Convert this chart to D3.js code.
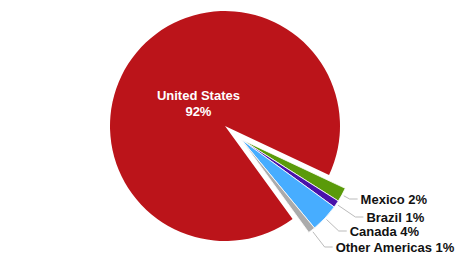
<!DOCTYPE html>
<html>
<head>
<meta charset="utf-8">
<script src="https://cdn.jsdelivr.net/npm/d3@7"></script>
<style>
  body { margin: 0; background: #fff; }
  text { font-family: "Liberation Sans", Arial, sans-serif; font-weight: bold; }
</style>
</head>
<body>
<script>
'use strict';

// chart data
const countries = ["Mexico", "Brazil", "Canada", "Other Americas", "United States"];
const shares = [2, 1, 4, 1, 92];
const colors = ["#5a9a0a", "#4a12aa", "#47adff", "#ababab", "#bb141a"];

(function() {
  const width = 466, height = 266;
  const cx = 225, cy = 126, radius = 115;
  const explode = 21;

  let svg = d3.select('body')
    .append('svg')
    .attr('width', width)
    .attr('height', height);

  let data = countries.map((c, i) => ({ name: c, value: shares[i], color: colors[i] }));

  // small slices start just below 3 o'clock, US fills the rest
  let start = 115.2 * Math.PI / 180;
  let pie = d3.pie()
    .sort(null)
    .value(d => d.value)
    .startAngle(start)
    .endAngle(start + 2 * Math.PI);
  let arcs = pie(data);

  let arc = d3.arc().innerRadius(0).outerRadius(radius);

  let small = arcs.filter(a => a.data.name != "United States");
  let us = arcs.find(a => a.data.name == "United States");

  // offset of the exploded group, along the middle of the small slices
  let midSmall = (small[0].startAngle + small[small.length - 1].endAngle) / 2;
  let dx = Math.sin(midSmall) * explode, dy = -Math.cos(midSmall) * explode;

  svg.append('path')
    .attr('transform', `translate(${cx},${cy})`)
    .attr('d', arc(us))
    .attr('fill', us.data.color);

  let g = svg.append('g')
    .attr('transform', `translate(${cx + dx},${cy + dy})`);

  g.selectAll('path')
    .data(small)
    .enter()
    .append('path')
      .attr('d', arc)
      .attr('fill', d => d.data.color)
      .attr('stroke', '#fff')
      .attr('stroke-width', 0.8);

  // leader lines and labels
  small.forEach((a, i) => {
    let mid = (a.startAngle + a.endAngle) / 2;
    let sx = Math.sin(mid), sy = -Math.cos(mid);
    let labelY = 200 + i * 16 + (i == 1 ? 2 : 0);
    let lineY = labelY - 1 - cy - dy;
    let t = lineY / sy;
    let p0 = [sx * (radius + 2), sy * (radius + 2)];
    let p1 = [sx * t, lineY];
    let p2 = [p1[0] + 8, lineY];
    g.append('polyline')
      .attr('points', [p0, p1, p2].map(p => p.join(',')).join(' '))
      .attr('fill', 'none')
      .attr('stroke', '#bbbbbb')
      .attr('stroke-width', 1);
    g.append('text')
      .attr('x', p2[0] + 3)
      .attr('y', lineY + 5)
      .style('font-size', '13px')
      .attr('fill', '#111')
      .text(a.data.name + " " + a.data.value + "%");
  });

  // US label inside the slice
  let labelArc = d3.arc().innerRadius(radius * 0.3).outerRadius(radius * 0.3);
  let c = labelArc.centroid(us);
  let usText = svg.append('text')
    .attr('text-anchor', 'middle')
    .attr('fill', '#fff')
    .style('font-size', '13px')
    .attr('transform', `translate(${cx + c[0]},${cy + c[1]})`);
  usText.append('tspan').attr('x', 0).attr('y', -4).text(us.data.name);
  usText.append('tspan').attr('x', 0).attr('y', 12).text(us.data.value + "%");
})();
</script>
</body>
</html>
